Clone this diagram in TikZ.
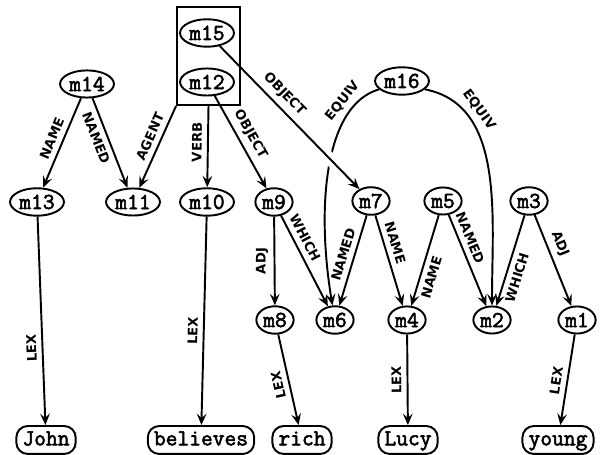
\documentclass[tikz,border=0pt]{standalone}
\usepackage{fontspec}
\newfontfamily\nodefont[FakeBold=2.5]{Latin Modern Mono}
\newfontfamily\labfont{DejaVu Sans}
\usetikzlibrary{shapes.geometric,arrows.meta}
\begin{document}
\begin{tikzpicture}[x=0.02cm, y=0.02cm, line width=1.1pt,
  >={Stealth[length=6.5pt,width=5.5pt,inset=2.5pt]},
  mnode/.style={draw, ellipse, inner xsep=0.8pt, inner ysep=1.4pt, font=\fontsize{13}{15}\selectfont\nodefont},
  word/.style={draw, rounded corners=6.5pt, inner xsep=3.5pt, inner ysep=2.5pt, text height=8.5pt, text depth=2.4pt, font=\fontsize{13}{15}\selectfont\nodefont},
  lab/.style={font=\fontsize{7.5}{8}\selectfont\labfont\bfseries, inner sep=3pt}]
\useasboundingbox (0,0) rectangle (605,455);
\node[draw, minimum width=1.26cm, minimum height=1.96cm, inner sep=0] (ctx) at (208.5,399){};
\node[mnode] (m15) at (207,422){m15};
\node[mnode] (m12) at (207,373){m12};
\node[mnode] (m14) at (87,371){m14};
\node[mnode] (m16) at (402,374){m16};
\node[mnode] (m13) at (37,253){m13};
\node[mnode] (m11) at (133,253){m11};
\node[mnode] (m10) at (207,253){m10};
\node[mnode] (m9) at (274,253){m9};
\node[mnode] (m7) at (371,254){m7};
\node[mnode] (m5) at (443,254){m5};
\node[mnode] (m3) at (529,254){m3};
\node[mnode] (m8) at (275,135){m8};
\node[mnode] (m6) at (335,135){m6};
\node[mnode] (m4) at (407,135){m4};
\node[mnode] (m2) at (492,135){m2};
\node[mnode] (m1) at (577,135){m1};
\node[word] (John) at (46,15){John};
\node[word] (believes) at (201,15){believes};
\node[word] (rich) at (302,15){rich};
\node[word] (Lucy) at (408,15){Lucy};
\node[word] (young) at (558,15){young};
\draw[->](m14) -- node[lab, sloped, above, pos=0.5]{NAME} (m13);
\draw[->](m14) -- node[lab, sloped, below, pos=0.4]{NAMED} (m11);
\draw[->](ctx.south west) -- node[lab, sloped, above, pos=0.43]{AGENT} (m11);
\draw[->](ctx.south) -- node[lab, sloped, above, pos=0.45]{VERB} (m10);
\draw[->](m12) -- node[lab, sloped, above, pos=0.48]{OBJECT} (m9);
\draw[->](m16.200) .. controls (325,350) and (316,250) .. node[lab, sloped, above, pos=0.2]{EQUIV} (m6.100);
\draw[->](m16.-20) .. controls (505,350) and (492,240) .. node[lab, sloped, above, pos=0.25]{EQUIV} (m2);
\draw[->, preaction={draw=white, line width=7pt, -, shorten <=70pt, shorten >=15pt}](m15) -- node[lab, sloped, above, pos=0.4]{OBJECT} (m7);
\draw[->](m13) -- node[lab, sloped, above, rotate=180, pos=0.63]{LEX} (John);
\draw[->](m10) -- node[lab, sloped, above, pos=0.55]{LEX} (believes);
\draw[->](m9) -- node[lab, sloped, above, rotate=180, pos=0.5]{ADJ} (m8);
\draw[->](m9) -- node[lab, sloped, above, pos=0.3]{WHICH} (m6);
\draw[->](m7) -- node[lab, sloped, above, pos=0.47]{NAMED} (m6);
\draw[->](m7) -- node[lab, sloped, above, pos=0.34]{NAME} (m4);
\draw[->](m5) -- node[lab, sloped, below, pos=0.65]{NAME} (m4);
\draw[->](m5) -- node[lab, sloped, above, pos=0.3]{NAMED} (m2);
\draw[->](m3) -- node[lab, sloped, below, pos=0.65]{WHICH} (m2);
\draw[->](m3) -- node[lab, sloped, above, pos=0.37]{ADJ} (m1);
\draw[->](m8) -- node[lab, sloped, above, rotate=180, pos=0.53]{LEX} (rich);
\draw[->](m4) -- node[lab, sloped, above, rotate=180, pos=0.5]{LEX} (Lucy);
\draw[->](m1) -- node[lab, sloped, above, pos=0.53]{LEX} (young);
\end{tikzpicture}
\end{document}
